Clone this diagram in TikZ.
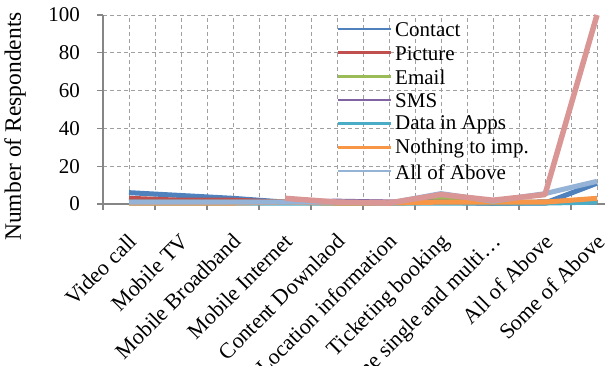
\documentclass[tikz,border=0pt]{standalone}
\usepackage{fontspec}
\setmainfont{Liberation Serif}
\definecolor{contact}{HTML}{4F81BD}
\definecolor{picture}{HTML}{C0504D}
\definecolor{email}{HTML}{9BBB59}
\definecolor{sms}{HTML}{8064A2}
\definecolor{apps}{HTML}{4BACC6}
\definecolor{nothing}{HTML}{F79646}
\definecolor{allabove}{HTML}{95B3D7}
\definecolor{someabove}{HTML}{D99694}
\definecolor{gridgray}{HTML}{A0A0A0}
\definecolor{axisgray}{HTML}{868686}
\begin{document}
\begin{tikzpicture}[x=1pt, y=1pt,
	gridline/.style = {draw=gridgray, line width=0.8pt, dash pattern=on 4pt off 3pt},
	axisline/.style = {draw=axisgray, line width=1.2pt},
	series/.style = {line width=5pt, line join=round},
	keyline/.style = {line width=2.5pt},
	lbl/.style = {font=\fontsize{21}{25}\selectfont, inner sep=0pt},
	catlbl/.style = {font=\fontsize{22}{26}\selectfont, inner sep=0pt, rotate=45, anchor=north east}]
	
	\useasboundingbox (0,0) rectangle (605,365);
	\fill[white] (0,0) rectangle (605,365);
	
	\begin{scope}[shift={(103,161)}, x=52pt, y=1.89pt]
		
		% grid
		\foreach \v in {20,40,60,80,100}
			\draw[gridline] (0,\v) -- (9.55,\v);
		\foreach \c in {0.5,1,...,9.5}
			\draw[gridline] (\c,0) -- (\c,100);
		
		% axes and ticks
		\draw[axisline] (0,100) -- (0,0) -- (9.7,0);
		\foreach \v in {0,20,...,100}
			\draw[axisline] (0,\v) -- ++(-6pt,0);
		\foreach \c in {0,...,9}
			\draw[axisline] (\c,0) -- ++(0,-6pt);
		
		\foreach \v in {0,20,...,100}
			\node[lbl, anchor=east] (y\v) at ([xshift=-23pt]0,\v) {\v};
		
		\node[catlbl] (x1) at ([xshift=-2pt, yshift=-28pt]0.5,0) {Video call};
		\node[catlbl] (x2) at ([xshift=-2pt, yshift=-28pt]1.5,0) {Mobile TV};
		\node[catlbl] (x3) at ([xshift=-2pt, yshift=-28pt]2.5,0) {Mobile Broadband};
		\node[catlbl] (x4) at ([xshift=-2pt, yshift=-28pt]3.5,0) {Mobile Internet};
		\node[catlbl] (x5) at ([xshift=-2pt, yshift=-28pt]4.5,0) {Content Downlaod};
		\node[catlbl] (x6) at ([xshift=-2pt, yshift=-28pt]5.5,0) {Location information};
		\node[catlbl] (x7) at ([xshift=-2pt, yshift=-28pt]6.5,0) {Ticketing booking};
		\node[catlbl] (x8) at ([xshift=-2pt, yshift=-28pt]7.5,0) {Online single and multi…};
		\node[catlbl] (x9) at ([xshift=-2pt, yshift=-28pt]8.5,0) {All of Above};
		\node[catlbl] (x10) at ([xshift=-2pt, yshift=-28pt]9.5,0) {Some of Above};
		
		% data
		\draw[series, contact] (0.5,6) -- (1.5,4.5) -- (2.5,3) -- (3.5,1) -- (4.5,1) -- (5.5,0.5) -- (6.5,1) -- (7.5,0.5) -- (8.5,0.5) -- (9.5,11);
		\draw[series, picture] (0.5,3) -- (1.5,2) -- (2.5,2) -- (3.5,1) -- (4.5,1) -- (5.5,1) -- (6.5,1) -- (7.5,0.5) -- (8.5,1) -- (9.5,1);
		\draw[series, email] (0.5,1) -- (1.5,1) -- (2.5,1) -- (3.5,1) -- (4.5,0.5) -- (5.5,0.5) -- (6.5,2.5) -- (7.5,0.5) -- (8.5,1) -- (9.5,1);
		\draw[series, sms] (0.5,1) -- (1.5,1) -- (2.5,1) -- (3.5,1) -- (4.5,1.5) -- (5.5,1) -- (6.5,1) -- (7.5,0.5) -- (8.5,1) -- (9.5,1);
		\draw[series, apps] (0.5,0.5) -- (1.5,0.5) -- (2.5,0.5) -- (3.5,0.5) -- (4.5,0.5) -- (5.5,0.5) -- (6.5,0.5) -- (7.5,0.5) -- (8.5,0.5) -- (9.5,1);
		\draw[series, nothing] (0.5,0.5) -- (1.5,0.5) -- (2.5,0.5) -- (3.5,1) -- (4.5,0.5) -- (5.5,0.5) -- (6.5,1) -- (7.5,1) -- (8.5,1) -- (9.5,3);
		\draw[series, allabove] (0.5,1) -- (1.5,1) -- (2.5,1) -- (3.5,1) -- (4.5,1) -- (5.5,0.5) -- (6.5,5.5) -- (7.5,1.5) -- (8.5,5.5) -- (9.5,12);
		\draw[series, someabove, line width=5.5pt] (3.5,3) -- (4.5,1) -- (5.5,0.5) -- (6.5,5) -- (7.5,2) -- (8.5,5) -- (9.5,100);
	\end{scope}
	
	\node[lbl, font=\fontsize{23.5}{28}\selectfont, rotate=90] (ylabel) at (15,238.5) {Number of Respondents};
	
	% legend
	\draw[keyline, contact] (338,336) -- (391,336);
	\draw[keyline, picture] (338,312.3) -- (391,312.3);
	\draw[keyline, email] (338,288.7) -- (391,288.7);
	\draw[keyline, sms] (338,265) -- (391,265);
	\draw[keyline, apps] (338,241.3) -- (391,241.3);
	\draw[keyline, nothing] (338,217.7) -- (391,217.7);
	\draw[keyline, allabove] (338,194) -- (391,194);
	
	\node[lbl, anchor=west] (kcontact) at (395,335) {Contact};
	\node[lbl, anchor=west] (kpicture) at (395,311.3) {Picture};
	\node[lbl, anchor=west] (kemail) at (395,287.7) {Email};
	\node[lbl, anchor=west] (ksms) at (395,264) {SMS};
	\node[lbl, anchor=west] (kapps) at (395,240.3) {Data in Apps};
	\node[lbl, anchor=west] (knothing) at (395,216.7) {Nothing to imp.};
	\node[lbl, anchor=west] (kall) at (395,193) {All of Above};
	
\end{tikzpicture}
\end{document}
